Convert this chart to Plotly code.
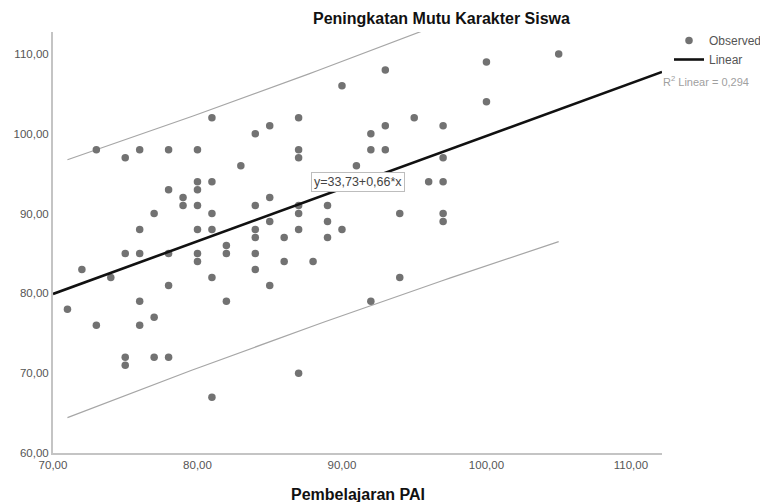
import numpy as np
import plotly.graph_objects as go

# Observed data: Pembelajaran PAI (x) vs Peningkatan Mutu Karakter Siswa (y)
pai = [71, 72, 73, 73, 74,
       75, 75, 75, 75,
       76, 76, 76, 76, 76,
       77, 77, 77,
       78, 78, 78, 78, 78,
       79, 79,
       80, 80, 80, 80, 80, 80, 80,
       81, 81, 81, 81, 81, 81,
       82, 82, 82,
       83,
       84, 84, 84, 84, 84, 84,
       85, 85, 85, 85,
       86, 86,
       87, 87, 87, 87, 87, 87, 87,
       88,
       89, 89, 89,
       90, 90,
       91,
       92, 92, 92,
       93, 93, 93,
       94, 94,
       95,
       96,
       97, 97, 97, 97, 97,
       100, 100,
       105]
karakter = [78, 83, 98, 76, 82,
            97, 85, 72, 71,
            98, 88, 85, 79, 76,
            90, 77, 72,
            98, 93, 85, 81, 72,
            92, 91,
            98, 94, 93, 91, 88, 85, 84,
            102, 94, 90, 88, 82, 67,
            86, 85, 79,
            96,
            100, 91, 88, 87, 85, 83,
            101, 92, 89, 81,
            87, 84,
            102, 98, 97, 91, 90, 88, 70,
            84,
            91, 89, 87,
            106, 88,
            96,
            100, 98, 79,
            108, 101, 98,
            90, 82,
            102,
            94,
            101, 97, 94, 90, 89,
            109, 104,
            110]

# Fit reported on the chart
intercept = 33.73
slope = 0.66
r2 = 0.294
r2_text = "0,294"
t_crit = 1.99  # 95% two-sided, df = n-2

x_ticks = [70, 80, 90, 100, 110]
y_ticks = [60, 70, 80, 90, 100, 110]
x_range = [70, 112.15]
y_range = [60, 112.75]

x = np.array(pai, dtype=float)
y = np.array(karakter, dtype=float)
n = len(x)
syy = np.sum((y - y.mean()) ** 2)
s = np.sqrt((1 - r2) * syy / (n - 2))
xbar = x.mean()
sxx = np.sum((x - xbar) ** 2)

xb = np.linspace(x.min(), x.max(), 60)
yb = intercept + slope * xb
hw = t_crit * s * np.sqrt(1 + 1 / n + (xb - xbar) ** 2 / sxx)

xl = np.array(x_range)
yl = intercept + slope * xl

font_family = "Liberation Sans, Arial, sans-serif"
W, H = 760, 502

fig = go.Figure()
fig.add_trace(go.Scatter(x=xb, y=yb + hw, mode="lines",
                         line=dict(color="#a6a6a6", width=1.2),
                         showlegend=False, hoverinfo="skip"))
fig.add_trace(go.Scatter(x=xb, y=yb - hw, mode="lines",
                         line=dict(color="#a6a6a6", width=1.2),
                         showlegend=False, hoverinfo="skip"))
fig.add_trace(go.Scatter(x=x, y=y, mode="markers", name="Observed",
                         marker=dict(color="#727272", size=7.5,
                                     line=dict(width=0))))
fig.add_trace(go.Scatter(x=xl, y=yl, mode="lines", name="Linear",
                         line=dict(color="#111111", width=2.6)))

fig.update_layout(
    width=W, height=H,
    margin=dict(l=53, r=98, t=32, b=49, autoexpand=False),
    paper_bgcolor="white", plot_bgcolor="white",
    separators=",.",
    font=dict(family=font_family, color="#555555", size=11),
    showlegend=True,
    legend=dict(xref="container", yref="container",
                x=669 / W, y=1 - 26 / H, xanchor="left", yanchor="top",
                bgcolor="rgba(0,0,0,0)", itemwidth=30,
                font=dict(size=12, color="#555555"),
                tracegroupgap=0),
    xaxis=dict(range=x_range, tickvals=x_ticks, tickformat=".2f",
               showgrid=False, zeroline=False, showline=True,
               linecolor="#c4c4c4", linewidth=2, ticks="",
               tickfont=dict(size=11.5, color="#555555")),
    yaxis=dict(range=y_range, tickvals=y_ticks, tickformat=".2f",
               showgrid=False, zeroline=False, showline=True,
               linecolor="#c4c4c4", linewidth=2, ticks="",
               tickfont=dict(size=11.5, color="#555555")),
    annotations=[
        dict(text="<b>Peningkatan Mutu Karakter Siswa</b>",
             xref="paper", yref="paper",
             x=(441 - 53) / 609, y=1 + (32 - 19) / 421,
             xanchor="center", yanchor="middle", showarrow=False,
             font=dict(size=16, color="#111111")),
        dict(text="<b>Pembelajaran PAI</b>",
             xref="paper", yref="paper",
             x=(358 - 53) / 609, y=-(494 - 453) / 421,
             xanchor="center", yanchor="middle", showarrow=False,
             font=dict(size=16, color="#111111")),
        dict(text="y=33,73+0,66*x",
             xref="paper", yref="paper",
             x=(357.5 - 53) / 609, y=(453 - 182) / 421,
             xanchor="center", yanchor="middle", showarrow=False,
             bgcolor="white", bordercolor="#bdbdbd", borderwidth=1,
             borderpad=2,
             font=dict(size=12.5, color="#444444")),
        dict(text="R<sup>2</sup> Linear = " + r2_text,
             xref="paper", yref="paper",
             x=(661 - 53) / 609, y=(453 - 81) / 421,
             xanchor="left", yanchor="middle", showarrow=False,
             font=dict(size=11, color="#a0a0a0")),
    ],
)

fig.write_html("out.html", config={"displayModeBar": False},
               post_script="document.body.style.margin='0';")
